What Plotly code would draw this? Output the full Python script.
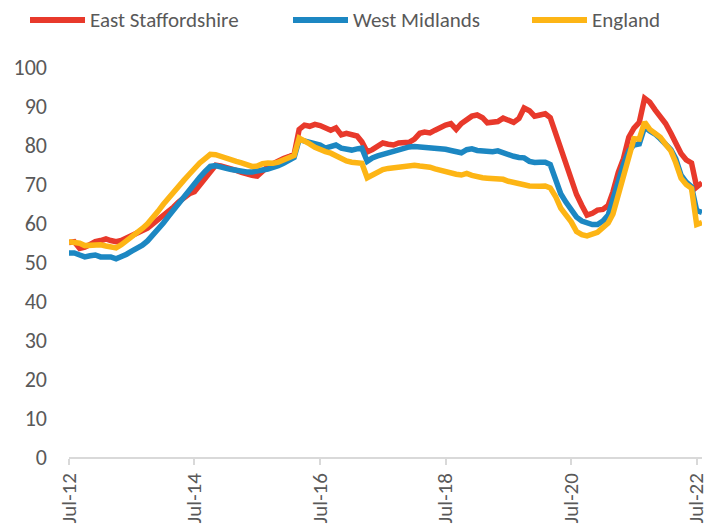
import pandas as pd
import plotly.graph_objects as go

# Monthly dates, Jul-2012 .. Aug-2022
dates = pd.date_range("2012-07-01", periods=122, freq="MS")

east_staffordshire = [
    55.0, 55.2, 53.5, 53.8, 54.5, 55.2, 55.5, 55.9, 55.5, 55.2,
    55.5, 56.2, 56.8, 57.4, 58.0, 58.7, 59.8, 60.8, 62.0, 63.0,
    64.1, 65.4, 66.5, 67.5, 68.0, 69.8, 71.5, 73.5, 74.8, 74.6,
    74.3, 73.8, 73.5, 73.0, 72.5, 72.2, 72.0, 73.5, 74.5, 75.2,
    76.0, 76.5, 77.0, 77.6, 84.0, 85.1, 84.8, 85.3, 85.0, 84.2,
    83.8, 84.4, 82.6, 83.0, 82.6, 82.3, 80.8, 78.2, 78.8, 79.5,
    80.5, 80.2, 80.0, 80.5, 80.5, 80.7, 81.5, 83.0, 83.3, 83.1,
    83.8, 84.6, 85.1, 85.5, 84.0, 85.5, 86.7, 87.4, 87.7, 87.0,
    85.7, 85.8, 86.0, 86.9, 86.3, 85.8, 86.8, 89.5, 88.8, 87.4,
    87.7, 88.0, 87.0, 83.0, 78.3, 74.2, 70.3, 67.3, 64.5, 62.0,
    62.5, 63.3, 63.5, 64.5, 68.0, 73.0, 76.5, 82.0, 84.3, 85.8,
    92.0, 91.0, 89.0, 87.2, 85.5, 83.0, 80.5, 77.8, 76.2, 75.4,
    69.2, 70.3,
]

west_midlands = [
    52.3, 52.3, 51.8, 51.3, 51.6, 51.8, 51.3, 51.2, 51.3, 50.8,
    51.3, 52.0, 52.8, 53.4, 54.3, 55.4, 56.8, 58.3, 60.0, 61.8,
    63.4, 65.0, 66.6, 68.2, 70.0, 71.7, 73.2, 74.5, 74.7, 74.5,
    74.0, 73.7, 73.4, 73.2, 73.1, 73.1, 73.2, 73.6, 73.8, 74.1,
    74.7, 75.3, 76.1, 76.8, 81.4, 81.0, 80.5, 80.3, 80.0, 79.2,
    79.7, 80.0, 79.2, 78.9, 78.7, 79.0, 79.2, 75.8, 76.7, 77.2,
    77.6, 77.8, 78.2, 78.6, 79.1, 79.5, 79.6, 79.5, 79.3, 79.2,
    79.2, 79.2, 78.9, 78.6, 78.2, 78.0, 78.8, 79.0, 78.6, 78.4,
    78.2, 78.3, 78.5, 78.0, 77.3, 77.1, 76.8, 76.7, 75.8, 75.5,
    75.6, 75.6, 75.0, 71.5, 67.5, 65.3, 63.5, 61.5, 60.5, 60.1,
    59.6, 59.6, 60.5, 62.0, 66.3, 70.5, 75.0, 78.5, 80.0, 80.3,
    84.6, 83.6, 82.8, 81.6, 80.2, 78.8, 76.5, 72.3, 70.5, 69.3,
    63.2, 62.7,
]

england = [
    55.2, 55.1, 54.8, 54.2, 54.3, 54.6, 54.4, 54.1, 53.9, 53.6,
    54.4, 55.4, 56.5, 57.5, 58.6, 59.8, 61.2, 63.0, 64.8, 66.5,
    68.2, 69.7, 71.0, 72.5, 74.0, 75.4, 76.5, 77.6, 77.5, 77.0,
    76.5, 76.2, 75.8, 75.4, 75.0, 74.5, 74.6, 75.2, 75.4, 75.3,
    75.6, 76.2, 76.8, 77.3, 81.8, 81.2, 80.3, 79.4, 78.7, 78.3,
    77.9, 77.2, 76.3, 75.9, 75.6, 75.5, 75.3, 71.6, 72.4, 73.3,
    73.7, 74.0, 74.2, 74.4, 74.7, 74.9, 74.8, 74.6, 74.5, 74.3,
    73.9, 73.5, 73.0, 72.7, 72.5, 72.3, 72.7, 72.2, 71.8, 71.6,
    71.5, 71.5, 71.4, 71.2, 70.7, 70.3, 70.2, 69.8, 69.5, 69.3,
    69.4, 69.5, 69.0, 66.8, 63.8, 62.0, 60.3, 57.8, 57.0, 56.7,
    57.0, 57.6, 58.8, 60.0, 62.3, 67.5, 71.8, 77.5, 81.6, 81.5,
    85.9, 84.0, 82.9, 82.0, 80.2, 78.5, 75.5, 71.5, 69.9, 68.9,
    59.6, 60.1,
]

tick_dates = ["2012-07-01", "2014-07-01", "2016-07-01", "2018-07-01",
              "2020-07-01", "2022-07-01"]
tick_labels = ["Jul-12", "Jul-14", "Jul-16", "Jul-18", "Jul-20", "Jul-22"]
y_ticks = list(range(0, 101, 10))

FONT = "Carlito, Calibri, Lato, sans-serif"
TXT = "#595959"

W, H = 708, 526
ML, MR, MT, MB = 69, 6, 67, 69
PW, PH = W - ML - MR, H - MT - MB

def px_x(p):
    return (p - ML) / PW

def px_y(p):
    return (H - MB - p) / PH

fig = go.Figure()
series = [
    ("East Staffordshire", east_staffordshire, "#E8392B"),
    ("West Midlands", west_midlands, "#1C87C2"),
    ("England", england, "#FDB515"),
]
for name, vals, col in series:
    fig.add_trace(go.Scatter(
        x=dates, y=vals, name=name, mode="lines",
        line=dict(color=col, width=5.5, shape="linear"),
        showlegend=False,
    ))

# Manual legend (keeps the plot area fixed)
legend_pos = [30, 293, 532]   # left edge of the swatch, in figure px
legend_y = 20
for (name, vals, col), lx in zip(series, legend_pos):
    fig.add_shape(
        type="line", xref="paper", yref="paper",
        x0=px_x(lx), x1=px_x(lx + 55), y0=px_y(legend_y), y1=px_y(legend_y),
        line=dict(color=col, width=6), layer="above",
    )
    fig.add_annotation(
        xref="paper", yref="paper", x=px_x(lx + 58), y=px_y(legend_y),
        text=name, showarrow=False, xanchor="left", yanchor="middle",
        font=dict(size=21, family=FONT, color=TXT),
    )

fig.update_layout(
    width=W, height=H,
    margin=dict(l=ML, r=MR, t=MT, b=MB),
    paper_bgcolor="white", plot_bgcolor="white",
    font=dict(family=FONT, color=TXT),
    showlegend=False,
    xaxis=dict(
        type="date",
        range=["2012-07-01", "2022-08-01"],
        tickvals=tick_dates, ticktext=tick_labels,
        tickangle=-90,
        showgrid=False, zeroline=False,
        showline=True, linecolor="#d9d9d9", linewidth=1.5,
        ticks="outside", tickcolor="#d9d9d9", ticklen=6, tickwidth=1.5,
        tickfont=dict(size=21, family=FONT, color=TXT),
        ticklabeloverflow="allow",
        automargin=False,
    ),
    yaxis=dict(
        range=[0, 100],
        tickvals=y_ticks,
        showgrid=False, zeroline=False, showline=False,
        ticks="", ticklabelstandoff=21,
        tickfont=dict(size=22, family=FONT, color=TXT),
        automargin=False,
    ),
)

fig.write_html(
    "out.html",
    config={"displayModeBar": False},
    post_script="document.body.style.margin='0';document.body.style.padding='0';",
)
